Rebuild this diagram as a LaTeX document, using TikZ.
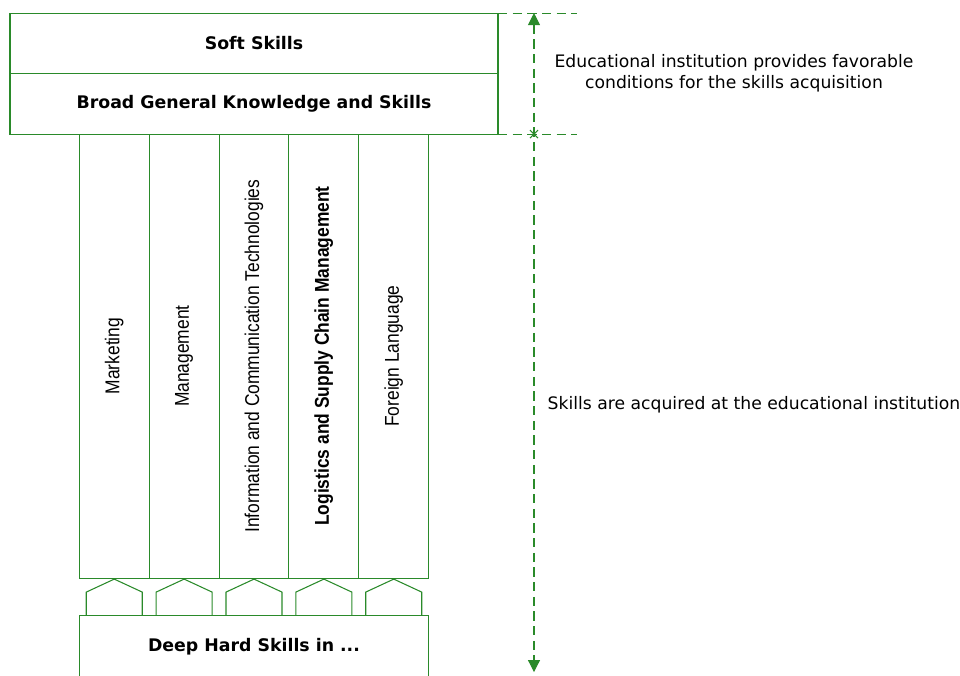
\documentclass[tikz,border=0pt]{standalone}
\usepackage{fontspec}
\setmainfont{DejaVu Sans}
\newfontfamily\narrowfont[FakeStretch=0.87]{Liberation Sans}
\usetikzlibrary{arrows.meta,positioning,calc}
\definecolor{frame}{HTML}{2A8A2A}

\begin{document}
\begin{tikzpicture}[x=0.75pt, y=-0.75pt,
  layer/.style={draw=frame, line width=0.8pt, outer sep=0pt, inner sep=0pt,
                minimum width=366pt, minimum height=45.4pt,
                font=\bfseries\fontsize{13}{15}\selectfont},
  subject/.style={draw=frame, line width=0.8pt, outer sep=0pt, inner sep=0pt,
                  minimum width=52.4pt, minimum height=333pt},
  subjtext/.style={rotate=90, font=\narrowfont\fontsize{15}{18}\selectfont},
  house/.style={draw=frame, line width=0.8pt},
  guide/.style={frame, line width=0.8pt, dash pattern=on 7pt off 4pt},
  note/.style={font=\fontsize{12.9}{16}\selectfont, align=center}
]
  \useasboundingbox (0,0) rectangle (960,675);

  % upper layers
  \node[layer] (soft) at (254,43.3) {Soft Skills};
  \node[layer, below=0pt of soft] (broad) {Broad General Knowledge and Skills};

  % the five subject pillars
  \node[subject, below=0pt of broad] (ict) {};
  \node[subject, left=0pt of ict] (mgmt) {};
  \node[subject, left=0pt of mgmt] (mkt) {};
  \node[subject, right=0pt of ict] (lscm) {};
  \node[subject, right=0pt of lscm] (lang) {};

  \foreach \name/\txt in {mkt/Marketing, mgmt/Management,
      ict/Information and Communication Technologies,
      lscm/{\bfseries Logistics and Supply Chain Management},
      lang/Foreign Language}
    \node[subjtext] at (\name) {\txt};

  % little houses on top of the base
  \foreach \name in {mkt,mgmt,ict,lscm,lang}
    \draw[house] ($(\name.south)+(-28,37)$) -- ++(0,-23)
      -- ($(\name.south)+(0,1)$) -- ($(\name.south)+(28,14)$) -- ++(0,23);

  \node[layer, minimum width=261.8pt, minimum height=48pt, below=27.75pt of ict]
    (deep) {Deep Hard Skills in ...};

  % dimension on the right
  \coordinate (dimtop) at ([xshift=27pt]soft.north east);
  \coordinate (dimmid) at ([xshift=27pt]broad.south east);
  \coordinate (dimbot) at ($(dimtop)+(0,659)$);
  \draw[guide] (soft.north east) -- ++(79,0);
  \draw[guide] (broad.south east) -- ++(79,0);
  \draw[guide, {Triangle[length=9pt,width=9pt]}-{Triangle[length=9pt,width=9pt]}]
    (dimtop) -- (dimbot);
  \draw[frame, line width=0.8pt] ($(dimmid)+(-4,-4)$) -- ($(dimmid)+(4,4)$)
    ($(dimmid)+(-4,4)$) -- ($(dimmid)+(4,-4)$);

  \node[note] (favor) at (734,73)
    {Educational institution provides favorable\\conditions for the skills acquisition};
  \node[note, anchor=west] (acquired) at (543,405)
    {Skills are acquired at the educational institution};
\end{tikzpicture}
\end{document}
